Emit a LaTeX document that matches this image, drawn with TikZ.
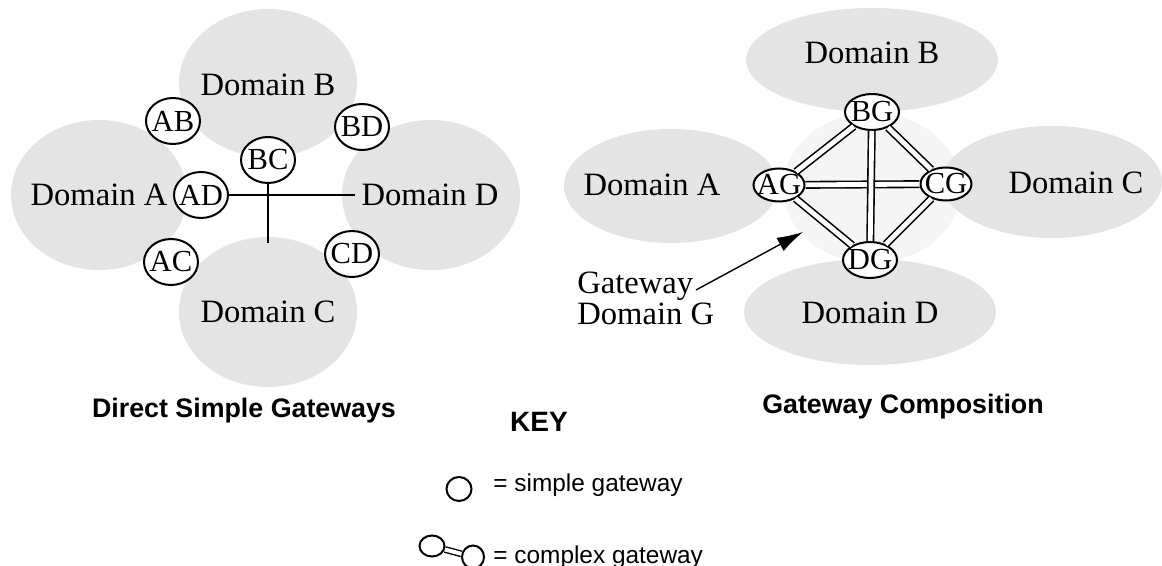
\documentclass[tikz,border=0pt]{standalone}
\usepackage{fontspec}
\setmainfont{Liberation Serif}
\newfontfamily\headfont{Liberation Sans}
\usetikzlibrary{shapes.geometric,arrows.meta}

\definecolor{domgray}{RGB}{228,228,228}
\definecolor{ggray}{RGB}{245,245,245}

\tikzset{
  domlabel/.style={font=\fontsize{16.3}{13}\selectfont},
  gw/.style={ellipse, draw, fill=white, line width=1pt, inner sep=0pt},
  link/.style={double, double distance=2.4pt, line width=0.8pt},
  title/.style={font=\headfont\bfseries\fontsize{13.4}{16}\selectfont, anchor=base},
  keytext/.style={font=\headfont\fontsize{12.2}{14}\selectfont, anchor=base west, inner sep=0pt}
}

\begin{document}
\begin{tikzpicture}[x=0.5pt, y=-0.5pt, font=\fontsize{15.3}{16}\selectfont]
        \useasboundingbox (0,0) rectangle (1162,566);

        \fill[domgray] (99, 195) ellipse [x radius=88, y radius=75];
        \fill[domgray] (268, 83) ellipse [x radius=89, y radius=74];
        \fill[domgray] (268, 312) ellipse [x radius=89, y radius=75];
        \fill[domgray] (431, 195) ellipse [x radius=89, y radius=75];

        \node[domlabel] (ldoma) at (99, 195) {Domain A};
        \node[domlabel] (ldomb) at (268, 85) {Domain B};
        \node[domlabel] (ldomc) at (268, 312) {Domain C};
        \node[domlabel] (ldomd) at (430, 195) {Domain D};

        \node[gw, minimum width=27pt, minimum height=23pt, label=center:AB] (ab) at (173, 121) {};
        \node[gw, minimum width=27pt, minimum height=23pt, label=center:BD] (bd) at (362, 127) {};
        \node[gw, minimum width=27pt, minimum height=23pt, label=center:BC] (bc) at (268, 160) {};
        \node[gw, minimum width=27pt, minimum height=23pt, label=center:AD] (ad) at (201, 195) {};
        \node[gw, minimum width=27pt, minimum height=23pt, label=center:AC] (ac) at (171, 262) {};
        \node[gw, minimum width=27pt, minimum height=23pt, label=center:CD] (cd) at (352, 254) {};

        \coordinate (bcend) at (268, 243);
        \draw[line width=1pt] (ad) -- (ldomd.west);
        \draw[line width=1pt] (bc) -- (bcend);

        \fill[ggray] (872, 188) ellipse [x radius=89, y radius=75];
        \fill[domgray] (671, 186) ellipse [x radius=107, y radius=57];
        \fill[domgray] (872, 60) ellipse [x radius=126, y radius=52];
        \fill[domgray] (1052, 182) ellipse [x radius=110, y radius=56];
        \fill[domgray] (870, 312) ellipse [x radius=126, y radius=53];

        \node[domlabel] (rdoma) at (652, 185) {Domain A};
        \node[domlabel] (rdomb) at (872, 53) {Domain B};
        \node[domlabel] (rdomc) at (1076, 183) {Domain C};
        \node[domlabel] (rdomd) at (870, 313) {Domain D};

        \node[gw, minimum width=27pt, minimum height=18pt, label=center:BG] (bg) at (872, 112) {};
        \node[gw, minimum width=25.5pt, minimum height=16.5pt, label=center:AG] (ag) at (779, 185) {};
        \node[gw, minimum width=25.5pt, minimum height=16.5pt, label=center:CG] (cg) at (946, 184) {};
        \node[gw, minimum width=27pt, minimum height=18pt, label=center:DG] (dg) at (870, 260) {};

        \draw[link] (ag) -- (cg);
        \draw[link] (ag) -- (bg);
        \draw[link] (bg) -- (cg);
        \draw[link] (ag) -- (dg);
        \draw[link] (cg) -- (dg);
        \draw[link] (bg) -- (dg);

        \node[domlabel, anchor=north west, inner sep=0pt, align=left] (gwname) at (577, 272) {Gateway\\Domain G};
        \coordinate (gstart) at (696, 290);
        \coordinate (gtip) at (803, 232);
        \draw[line width=0.7pt, -{Latex[length=13pt,width=7.5pt]}] (gstart) -- (gtip);

        \node[title] (ltitle) at (244, 418) {Direct Simple Gateways};
        \node[title] (rtitle) at (903, 414) {Gateway Composition};
        \node[title, font=\headfont\bfseries\fontsize{14}{16}\selectfont] (key) at (539, 432) {KEY};

        \node[gw, minimum width=12.5pt, minimum height=12pt] (ksimple) at (459, 489) {};
        \node[keytext] (ksimpletxt) at (493, 492) {= simple gateway};

        \node[gw, minimum width=12.5pt, minimum height=10.5pt] (kc1) at (432, 546) {};
        \node[gw, minimum width=11pt, minimum height=11.5pt] (kc2) at (473, 557) {};
        \draw[double, double distance=2pt, line width=0.7pt] (kc1) -- (kc2);
        \node[keytext] (kcomplextxt) at (493, 563) {= complex gateway};

    \end{tikzpicture}
\end{document}
